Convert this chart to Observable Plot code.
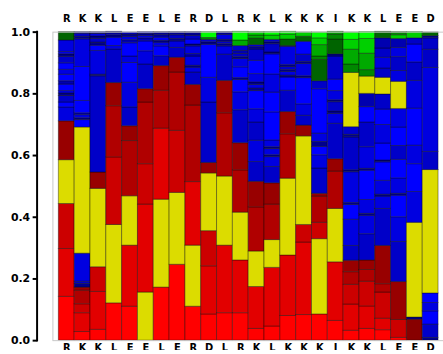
<!DOCTYPE html>
<html>
<head>
<meta charset="utf-8">
<script src="https://cdn.jsdelivr.net/npm/d3@7"></script>
<script src="https://cdn.jsdelivr.net/npm/@observablehq/plot@0.6"></script>
<style>
  html, body { margin: 0; padding: 0; background: #fff; overflow: hidden; }
</style>
</head>
<body>
<div id="chart"></div>
<script>
// Residue labels (top and bottom)
const residues = ["R","K","K","L","E","E","L","E","R","D","L","R","K","L","K","K","K","I","K","K","L","E","E","D"];

// Segment classes (colour keys)
const codes = ["R0","R1","R2","R3","R4","R5","Y","B0","B1","B2","B3","B4","G0","G1","G2","G3","G4"];

// Each column: stacked segments from bottom to top, [class, fraction]
const col01 = [["R0",.142],["R1",.155],["R2",.146],["Y",.142],["R4",.126],["B1",.045],["B0",.016],["B2",.021],["B4",.008],["B1",.008],["B0",.021],["B3",.011],["B0",.021],["B1",.016],["B0",.021],["B2",.021],["B4",.008],["B1",.008],["B1",.037],["G4",.027]];
const col02 = [["R0",.028],["R1",.061],["R2",.029],["R3",.044],["R4",.010],["B4",.012],["B2",.007],["B1",.091],["Y",.409],["B0",.024],["B4",.006],["B1",.010],["B3",.006],["B0",.040],["B0",.110],["B1",.090],["B4",.008],["B2",.010],["B4",.005]];
const col03 = [["R0",.035],["R1",.123],["R2",.080],["Y",.254],["R4",.053],["B2",.312],["B4",.005],["B1",.077],["B0",.017],["B4",.010],["B2",.012],["B4",.008],["B1",.008],["B4",.006]];
const col04 = [["R0",.121],["Y",.254],["R2",.219],["R3",.166],["R4",.075],["B2",.109],["B1",.011],["B0",.027],["B4",.008],["B2",.006],["B4",.005]];
const col05 = [["R0",.110],["R1",.198],["Y",.160],["R3",.179],["R4",.048],["B2",.061],["B1",.080],["B0",.064],["B1",.021],["B0",.043],["B3",.010],["B1",.010],["B4",.008],["B2",.007]];
const col06 = [["Y",.156],["R1",.285],["R2",.131],["R3",.200],["R4",.043],["B2",.080],["B1",.043],["B0",.032],["B3",.010],["B1",.008],["B4",.006],["B2",.006]];
const col07 = [["R0",.172],["Y",.285],["R1",.230],["R3",.123],["R4",.080],["B2",.032],["B0",.032],["B1",.012],["B4",.006],["B0",.010],["B3",.008],["B4",.010]];
const col08 = [["R0",.246],["Y",.233],["R2",.201],["R3",.189],["R4",.048],["B2",.032],["B1",.021],["B4",.008],["B2",.012],["B4",.010]];
const col09 = [["R0",.110],["Y",.198],["R1",.206],["R3",.248],["R4",.067],["B2",.040],["B1",.016],["B4",.006],["B1",.030],["B3",.008],["B1",.025],["B4",.006],["B0",.016],["B2",.012],["B4",.012]];
const col10 = [["R0",.085],["R1",.156],["R2",.114],["Y",.187],["R4",.034],["B2",.196],["B1",.080],["B0",.107],["B4",.008],["B2",.008],["G3",.006],["G0",.019]];
const col11 = [["R0",.089],["R1",.219],["Y",.224],["R3",.205],["R4",.105],["B2",.085],["B1",.027],["B4",.007],["B2",.008],["B4",.006],["B1",.016],["B4",.009]];
const col12 = [["R0",.089],["R1",.171],["Y",.155],["R3",.137],["R4",.088],["B2",.107],["B1",.058],["B0",.040],["B4",.006],["B0",.035],["B1",.027],["B4",.006],["B2",.010],["B3",.010],["B2",.016],["G2",.018],["G0",.028]];
const col13 = [["R0",.038],["R1",.136],["Y",.115],["R3",.143],["R4",.083],["B2",.064],["B1",.069],["B2",.059],["B1",.043],["B0",.059],["B4",.008],["B1",.012],["B4",.008],["B1",.027],["B0",.043],["B2",.037],["B4",.008],["B1",.006],["G4",.021],["G2",.010],["G1",.011]];
const col14 = [["R0",.046],["R1",.190],["Y",.090],["R3",.115],["R4",.069],["B2",.053],["B1",.032],["B4",.006],["B1",.020],["B4",.006],["B1",.022],["B0",.091],["B0",.064],["B1",.059],["B0",.065],["B4",.006],["B2",.027],["B4",.006],["B2",.008],["G1",.014],["G0",.011]];
const col15 = [["R0",.080],["R1",.196],["Y",.249],["R3",.144],["R4",.072],["B2",.069],["B0",.043],["B4",.006],["B1",.012],["B4",.006],["B2",.010],["B4",.006],["B1",.059],["B3",.003],["G4",.021],["G1",.016],["G0",.009]];
const col16 = [["R0",.083],["R1",.235],["R2",.057],["Y",.287],["R4",.035],["B2",.032],["B1",.037],["B0",.085],["B4",.006],["B1",.040],["B4",.006],["B2",.024],["B0",.042],["G4",.016],["G1",.014]];
const col17 = [["R0",.085],["Y",.244],["R2",.053],["R3",.085],["R4",.009],["B2",.082],["B1",.043],["B0",.027],["B4",.016],["B1",.027],["B0",.144],["B2",.026],["G4",.069],["G3",.011],["G2",.037],["G1",.022],["G0",.019]];
const col18 = [["R0",.064],["R1",.190],["Y",.173],["R3",.121],["R4",.040],["B2",.115],["B1",.032],["B4",.008],["B2",.030],["B4",.006],["B1",.030],["B0",.037],["B2",.075],["B4",.007],["G4",.048],["G3",.016],["G2",.009]];
const col19 = [["R0",.032],["R1",.085],["R2",.064],["R3",.041],["R4",.037],["B2",.048],["B1",.085],["B0",.048],["B4",.006],["B1",.100],["B4",.006],["B2",.107],["B4",.008],["B2",.025],["Y",.176],["G3",.027],["G2",.048],["G1",.032],["G0",.024]];
const col20 = [["R0",.038],["R1",.073],["R2",.080],["R3",.038],["R4",.031],["B2",.085],["B1",.060],["B4",.006],["B1",.045],["B0",.095],["B4",.006],["B1",.070],["B2",.080],["B0",.050],["B3",.043],["Y",.056],["G3",.021],["G2",.053],["G1",.048],["G0",.022]];
const col21 = [["R0",.034],["R1",.037],["R2",.085],["R3",.027],["R4",.124],["B2",.120],["B1",.040],["B4",.006],["B1",.045],["B0",.060],["B4",.006],["B0",.055],["B1",.060],["B0",.050],["B2",.049],["Y",.054],["B2",.030],["B1",.035],["B2",.030],["B3",.033],["G4",.021]];
const col22 = [["R0",.009],["R2",.058],["R4",.123],["B2",.130],["B1",.080],["B0",.070],["B4",.006],["B1",.050],["B0",.060],["B2",.045],["B0",.060],["B1",.060],["Y",.088],["B1",.035],["B2",.045],["B1",.030],["B3",.029],["G1",.012],["G3",.010]];
const col23 = [["R5",.068],["B4",.007],["Y",.307],["B1",.100],["B0",.090],["B1",.060],["B0",.120],["B1",.090],["B2",.060],["B0",.058],["B2",.020],["G1",.020]];
const col24 = [["B4",.009],["B2",.043],["B0",.043],["B1",.027],["B0",.031],["Y",.400],["B2",.059],["B1",.272],["B2",.059],["B2",.037],["B4",.007],["G4",.012]];

const columns = [col01,col02,col03,col04,col05,col06,col07,col08,col09,col10,col11,col12,
                 col13,col14,col15,col16,col17,col18,col19,col20,col21,col22,col23,col24];
const yTicks = [0, 0.2, 0.4, 0.6, 0.8, 1.0];

// Styles
const palette = ["#ff0000","#e20000","#cc0000","#b00000","#980000","#880000","#dcdc00",
                 "#0000ff","#0000e0","#0000c8","#0000b0","#00008c",
                 "#00ff00","#00d000","#00aa00","#008800","#006400"];

const rows = [];
columns.forEach((col, i) => col.forEach(([code, value]) => rows.push({pos: i, code, value})));

const axisLine = (index, scales, values, dimensions) => {
  const ns = "http://www.w3.org/2000/svg";
  const g = document.createElementNS(ns, "g");
  const line = document.createElementNS(ns, "line");
  const x = dimensions.marginLeft - 15.5;
  line.setAttribute("x1", x); line.setAttribute("x2", x);
  line.setAttribute("y1", scales.y(1) - 1); line.setAttribute("y2", scales.y(0) + 1);
  line.setAttribute("stroke", "#000"); line.setAttribute("stroke-width", 2);
  g.appendChild(line);
  return g;
};

const chart = Plot.plot({
  width: 448,
  height: 354,
  marginLeft: 53,
  marginRight: 0,
  marginTop: 32,
  marginBottom: 10,
  style: {fontFamily: "DejaVu Sans", background: "#fff"},
  x: {type: "band", domain: d3.range(residues.length), padding: 0, axis: null},
  y: {domain: [0, 1], axis: null},
  color: {domain: codes, range: palette},
  marks: [
    Plot.barY(rows, {x: "pos", y: "value", fill: "code", stroke: "#000", strokeOpacity: 0.38, strokeWidth: 1, inset: 0}),
    Plot.frame({stroke: "#c8c8c8", strokeWidth: 1}),
    Plot.axisX({anchor: "top", label: null, tickSize: 0, tickPadding: 10, tickFormat: i => residues[i], fontWeight: "bold", fontSize: 10, fill: "#000"}),
    Plot.axisX({anchor: "bottom", label: null, tickSize: 0, tickPadding: 3, tickFormat: i => residues[i], fontWeight: "bold", fontSize: 10, fill: "#000"}),
    Plot.axisY({ticks: yTicks, label: null, tickFormat: d3.format(".1f"), tickSize: 5, tickPadding: 3, dx: -15, strokeWidth: 2, fontWeight: "bold", fontSize: 11, color: "#000"}),
    axisLine
  ]
});
document.getElementById("chart").appendChild(chart);
</script>
</body>
</html>
